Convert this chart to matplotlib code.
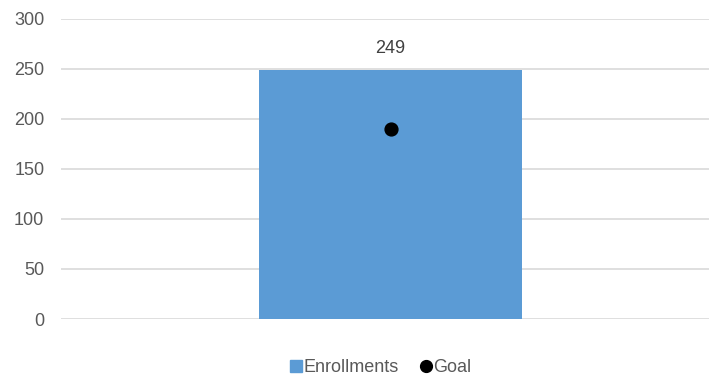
import matplotlib.pyplot as plt
from matplotlib.lines import Line2D

plt.rcParams["font.family"] = ["Liberation Sans", "DejaVu Sans"]

categories = [""]
enrollments = [249]
goal = [190]

fig = plt.figure(figsize=(7.09, 3.77), dpi=100)
ax = fig.add_axes([61 / 709, 58 / 377, 659 / 709, 300.3 / 377])

ax.bar(range(len(categories)), enrollments, width=0.4, color="#5b9bd5", zorder=2)
ax.scatter(range(len(categories)), goal, s=85, color="black", zorder=3)
for i, v in enumerate(enrollments):
    ax.annotate(f"{v}", (i, v), xytext=(0, 15), textcoords="offset points",
                ha="center", va="center", fontsize=13, color="#404040")

ax.set_xlim(-0.5, 0.5)
ax.set_ylim(0, 300)
ax.set_yticks(range(0, 301, 50))
ax.set_xticks([])
ax.grid(axis="y", color="#d9d9d9", linewidth=1.2, zorder=0)
ax.tick_params(axis="y", length=0, pad=12, labelsize=13, labelcolor="#595959")
for s in ax.spines.values():
    s.set_visible(False)

handles = [
    Line2D([], [], marker="s", linestyle="", color="#5b9bd5", markersize=8, label="Enrollments"),
    Line2D([], [], marker="o", linestyle="", color="black", markersize=8.5, label="Goal"),
]
fig.legend(handles=handles, loc="center", bbox_to_anchor=(379 / 709, 1 - 368 / 377),
           ncol=2, frameon=False, fontsize=13, handletextpad=-0.1, columnspacing=1.0,
           labelcolor="#595959", handlelength=1.0, borderpad=0, borderaxespad=0)

fig.savefig("out.png", dpi=100)
